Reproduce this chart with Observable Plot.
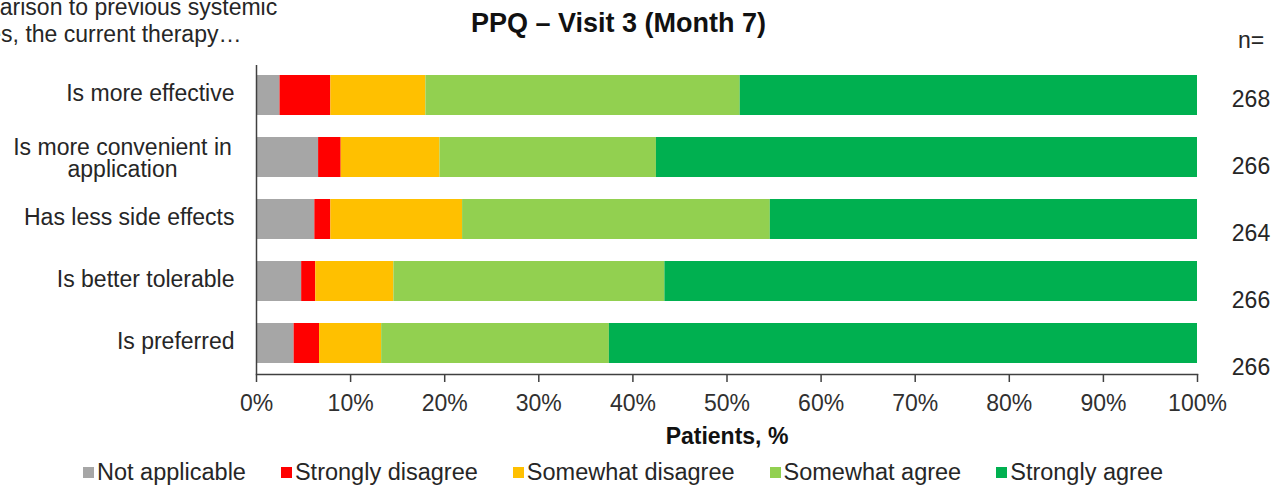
<!DOCTYPE html>
<html>
<head>
<meta charset="utf-8">
<script src="https://cdn.jsdelivr.net/npm/d3@7"></script>
<script src="https://cdn.jsdelivr.net/npm/@observablehq/plot@0.6"></script>
<style>
  html, body { margin: 0; padding: 0; background: #fff; }
  #wrap { position: relative; width: 1288px; height: 489px; overflow: hidden;
          font-family: "Liberation Sans", Arial, sans-serif; color: #262626; }
  #note { position: absolute; left: -82px; top: -6px; font-size: 23px; line-height: 27px;
          white-space: nowrap; color: #262626; }
  #title { position: absolute; left: 0; top: 10px; width: 1237px; text-align: center;
           font-size: 27px; line-height: 27px; font-weight: bold; color: #111; }
  #chart { position: absolute; left: 0; top: 0; }
  #ncol { position: absolute; left: 1197px; top: 0; }
  #legend { position: absolute; left: 83px; top: 461px; display: flex; align-items: center;
            font-size: 23.5px; line-height: 23px; white-space: nowrap; color: #262626; }
  #legend .item { display: flex; align-items: center; margin-right: 35px; }
  #legend .sw { width: 11px; height: 11px; margin-right: 3px; }
</style>
</head>
<body>
<div id="wrap">
  <div id="chart"></div>
  <div id="ncol"></div>
  <div id="note">In comparison to previous systemic<br>therapies, the current therapy…</div>
  <div id="title">PPQ – Visit 3 (Month 7)</div>
  <div id="legend"></div>
</div>
<script>
// ---- data ----
const questions = [
  "Is more effective",
  "Is more convenient in application",
  "Has less side effects",
  "Is better tolerable",
  "Is preferred"
];
const questionLabels = [
  "Is more effective",
  "Is more convenient in\napplication",
  "Has less side effects",
  "Is better tolerable",
  "Is preferred"
];
const nValues = ["268", "266", "264", "266", "266"];
const responses = ["Not applicable", "Strongly disagree", "Somewhat disagree", "Somewhat agree", "Strongly agree"];
const responseColors = ["#a6a6a6", "#ff0000", "#ffc000", "#92d050", "#00b050"];

const notApplicable    = [2.5, 6.6, 6.2, 4.8, 4.0];
const stronglyDisagree = [5.4, 2.4, 1.7, 1.5, 2.7];
const somewhatDisagree = [10.1, 10.5, 14.0, 8.3, 6.6];
const somewhatAgree    = [33.4, 23.0, 32.7, 28.8, 24.2];
const stronglyAgree    = [48.6, 57.5, 45.4, 56.6, 62.5];

const xTicks = [0, 10, 20, 30, 40, 50, 60, 70, 80, 90, 100];
const xLabel = "Patients, %";

// ---- table built from arrays ----
const series = [notApplicable, stronglyDisagree, somewhatDisagree, somewhatAgree, stronglyAgree];
const data = [];
questions.forEach((q, i) => {
  responses.forEach((r, j) => data.push({question: q, response: r, value: series[j][i]}));
});
const labelRows = questions.map((q, i) => ({question: q, label: questionLabels[i]}));
const singleRows = labelRows.filter(d => !d.label.includes("\n"));
const multiRows = labelRows.filter(d => d.label.includes("\n"));

const font = "'Liberation Sans', Arial, sans-serif";
const axisColor = "#404040";

const chart = Plot.plot({
  width: 1288,
  height: 455,
  marginLeft: 256,
  marginRight: 91,
  marginTop: 65,
  marginBottom: 81,
  style: {fontFamily: font, fontSize: "23px", color: "#262626", background: "transparent"},
  x: {domain: [0, 100]},
  y: {domain: questions, type: "band", paddingInner: 0.35, paddingOuter: 0.16, axis: null},
  color: {domain: responses, range: responseColors},
  marks: [
    Plot.barX(data, Plot.stackX({y: "question", x: "value", fill: "response"})),
    Plot.ruleX([0], {stroke: axisColor, strokeWidth: 1.5}),
    Plot.frame({anchor: "bottom", stroke: axisColor, strokeWidth: 1.5}),
    Plot.axisX({
      ticks: xTicks, tickFormat: d => d + "%", tickSize: 8, tickPadding: 12,
      stroke: axisColor, strokeWidth: 1.5, fill: "#303030", label: null
    }),
    Plot.text([xLabel], {frameAnchor: "bottom", lineAnchor: "top", dy: 53,
      fontWeight: "bold", fill: "#111"}),
    Plot.text(singleRows, {y: "question", text: "label", frameAnchor: "left",
      textAnchor: "end", dx: -22, dy: -1.5, fill: "#262626"}),
    Plot.text(multiRows, {y: "question", text: "label", frameAnchor: "left",
      textAnchor: "middle", dx: -134, dy: 1, lineHeight: 0.96, fill: "#262626"})
  ]
});
document.getElementById("chart").appendChild(chart);

const nPlot = Plot.plot({
  width: 91,
  height: 400,
  marginLeft: 16, marginRight: 0, marginTop: 0, marginBottom: 0,
  style: {fontFamily: font, fontSize: "23px", color: "#262626", background: "transparent"},
  y: {type: "point", domain: questions, range: [98, 367], padding: 0, axis: null},
  marks: [
    Plot.text(["n="], {frameAnchor: "top", dy: 31, fill: "#262626"}),
    Plot.text(questions, {y: d => d, text: (d, i) => nValues[i], fill: "#262626"})
  ]
});
document.getElementById("ncol").appendChild(nPlot);

// ---- legend ----
const legend = document.getElementById("legend");
responses.forEach((r, i) => {
  const item = document.createElement("div");
  item.className = "item";
  const sw = document.createElement("span");
  sw.className = "sw";
  sw.style.background = responseColors[i];
  const t = document.createElement("span");
  t.textContent = r;
  item.appendChild(sw);
  item.appendChild(t);
  legend.appendChild(item);
});
</script>
</body>
</html>
